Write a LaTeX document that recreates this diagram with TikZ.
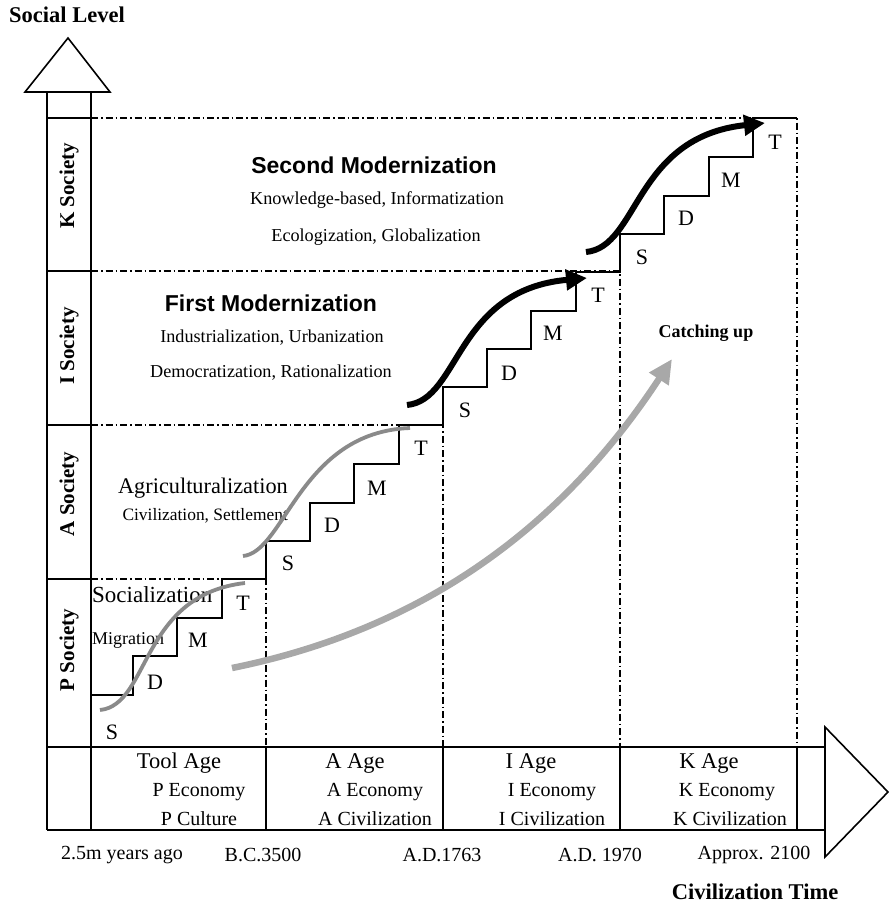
\documentclass[tikz,border=0pt]{standalone}
\usepackage{fontspec}
\setmainfont{Liberation Serif}
\newfontfamily\arialf{Liberation Sans}
\usetikzlibrary{arrows.meta}
\definecolor{gcurve}{HTML}{8A8A8A}
\definecolor{garrow}{HTML}{A8A8A8}
\newcommand{\fsz}[1]{\fontsize{#1}{#1}\selectfont}
\begin{document}
\begin{tikzpicture}[x=1pt,y=-1pt,
  axisline/.style={line width=2.4pt},
  headbox/.style={line width=1.6pt, fill=white, line join=miter},
  stairline/.style={line width=1.9pt, line join=miter},
  dd/.style={line width=1.2pt, dash pattern=on 7pt off 3pt on 1.5pt off 3pt},
  txt/.style={inner sep=0pt, font=\fsz{20}},
  big/.style={inner sep=0pt, font=\fsz{22.5}},
  bbig/.style={inner sep=0pt, font=\fsz{22.5}\bfseries},
  stl/.style={inner sep=0pt, font=\fsz{22}},
  vlab/.style={inner sep=0pt, font=\fsz{21}\bfseries, rotate=90},
  modt/.style={inner sep=0pt, font=\fsz{23}\arialf\bfseries},
  modl/.style={inner sep=0pt, font=\fsz{18.2}},
  gcurveline/.style={line width=3.8pt, color=gcurve},
  blkarrow/.style={line width=6pt, -{Triangle[length=21pt,width=20pt]}},
]
\useasboundingbox (0,0) rectangle (889,903);

% dash-dot guide lines
\draw[dd] (91,118) -- (797,118) -- (797,747);
\draw[dd] (91,271) -- (620,271) -- (620,747);
\draw[dd] (91,425) -- (443,425) -- (443,747);
\draw[dd] (91,579) -- (266,579) -- (266,747);

% axis arrow heads
\draw[headbox] (25,92) -- (68,38) -- (110,92) -- cycle;
\draw[headbox] (825,727) -- (888,792) -- (825,857) -- cycle;

% vertical column
\draw[axisline] (47,92) -- (47,830);
\draw[axisline] (91,92) -- (91,830);
\foreach \yy in {118,271,425,579} \draw[axisline] (47,\yy) -- (91,\yy);

% bottom band
\draw[axisline] (47,747) -- (825,747);
\draw[axisline] (47,830) -- (825,830);
\foreach \xx in {266,443,620,797} \draw[axisline] (\xx,747) -- (\xx,830);

% stairs
\draw[stairline] (91,695) -| (133,656) -| (177,618) -| (222,579) -| (266,541)
  -| (310,503) -| (354,464) -| (399,425) -| (443,387) -| (487,349) -| (531,311)
  -| (576,272) -| (620,234) -| (664,196) -| (709,157) -| (753,118) -- (797,118);

% texts in the chart (drawn before curves)
\node[modt] (secmod) at (374,165) {Second Modernization};
\node[modl] (secl1) at (377,200) {Knowledge-based, Informatization};
\node[modl] (secl2) at (376,237) {Ecologization, Globalization};
\node[modt] (firmod) at (271,303) {First Modernization};
\node[modl] (firl1) at (272,338) {Industrialization, Urbanization};
\node[modl] (firl2) at (271,373) {Democratization, Rationalization};
\node[inner sep=0pt, font=\fsz{22.3}, anchor=east] (agri) at (288,488) {Agriculturalization};
\node[inner sep=0pt, font=\fsz{17.4}, anchor=east] (agril) at (288,516) {Civilization, Settlement};
\node[inner sep=0pt, font=\fsz{23}, anchor=west] (soc) at (92,595) {Socialization};
\node[inner sep=0pt, font=\fsz{18}, anchor=west] (mig) at (92,640) {Migration};
\node[inner sep=0pt, font=\fsz{18}\bfseries] (catch) at (706,333) {Catching up};

% stair letters
\node[stl] (ps) at (112,732) {S}; \node[stl] (pd) at (155,682) {D};
\node[stl] (pm) at (198,640) {M}; \node[stl] (pt) at (243,603) {T};
\node[stl] (as) at (288,563) {S}; \node[stl] (ad) at (332,525) {D};
\node[stl] (am) at (377,488) {M}; \node[stl] (at) at (421,448) {T};
\node[stl] (is) at (465,410) {S}; \node[stl] (id) at (509,373) {D};
\node[stl] (im) at (553,333) {M}; \node[stl] (it) at (598,295) {T};
\node[stl] (ks) at (642,257) {S}; \node[stl] (kd) at (686,218) {D};
\node[stl] (km) at (731,180) {M}; \node[stl] (kt) at (775,142) {T};

% curves
\draw[gcurveline] (100,710) .. controls (150,705) and (140,595) .. (245,583);
\draw[gcurveline] (243,556) .. controls (285,552) and (300,432) .. (410,428);
\draw[blkarrow] (407,405) .. controls (460,400) and (455,290) .. (587,278);
\draw[blkarrow] (586,252) .. controls (639,247) and (634,137) .. (765,123);
\draw[line width=6.5pt, color=garrow, -{Triangle[length=24pt,width=22pt]}]
  (232,668) .. controls (420,630) and (560,530) .. (672,359);

% vertical labels
\node[vlab] (ksoc) at (69,186) {K Society};
\node[vlab] (isoc) at (69,346) {I Society};
\node[vlab] (asoc) at (69,494) {A Society};
\node[vlab] (psoc) at (69,650) {P Society};

% bottom band texts
\node[big] (tage) at (179,763) {Tool Age};
\node[txt] (pecon) at (199,792) {P Economy};
\node[txt] (pcult) at (199,819) {P Culture};
\node[big] (aage) at (355,763) {A Age};
\node[txt] (aecon) at (375,792) {A Economy};
\node[txt] (aciv) at (375,819) {A Civilization};
\node[big] (iage) at (531,763) {I Age};
\node[txt] (iecon) at (552,792) {I Economy};
\node[txt] (iciv) at (552,819) {I Civilization};
\node[big] (kage) at (709,763) {K Age};
\node[txt] (kecon) at (727,792) {K Economy};
\node[txt] (kciv) at (730,819) {K Civilization};

% time labels
\node[txt] (t1) at (122,855) {2.5m years ago};
\node[txt] (t2) at (263,855) {B.C.3500};
\node[txt] (t3) at (442,855) {A.D.1763};
\node[txt] (t4) at (600,855) {A.D. 1970};
\node[txt] (t5) at (754,855) {Approx. 2100};

% axis titles
\node[bbig] (ytitle) at (67,15) {Social Level};
\node[bbig] (xtitle) at (755,892) {Civilization Time};
\end{tikzpicture}
\end{document}
